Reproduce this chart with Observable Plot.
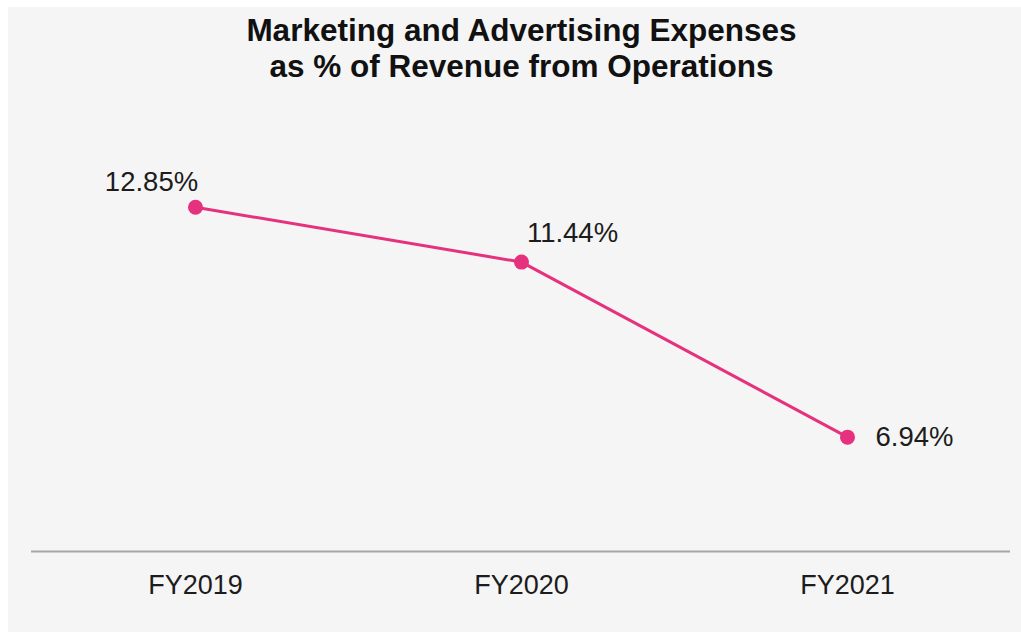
<!DOCTYPE html>
<html>
<head>
<meta charset="utf-8">
<script src="https://cdn.jsdelivr.net/npm/d3@7"></script>
<script src="https://cdn.jsdelivr.net/npm/@observablehq/plot@0.6"></script>
<style>
  html, body { margin: 0; padding: 0; background: #ffffff; }
  body { width: 1021px; height: 632px; overflow: hidden; position: relative;
         font-family: "Liberation Sans", Arial, sans-serif; }
  #panel { position: absolute; left: 8px; top: 7px; width: 1013px; height: 625px; background: #f5f5f5; }
  #title { box-sizing: border-box; width: 1013px; height: 93px; padding-top: 5px; padding-left: 14px;
           text-align: center; font-weight: bold; font-size: 31.5px; line-height: 36px; color: #111; }
  #chart svg { display: block; }
</style>
</head>
<body>
<div id="panel">
  <div id="title">Marketing and Advertising Expenses<br>as % of Revenue from Operations</div>
  <div id="chart"></div>
</div>
<script>
const years = ["FY2019", "FY2020", "FY2021"];
const values = [12.85, 11.44, 6.94];
const valueLabels = ["12.85%", "11.44%", "6.94%"];

const data = years.map((y, i) => ({year: y, value: values[i], label: valueLabels[i]}));
const pink = "#e6327e";
const textColor = "#1c1c1c";

const plot = Plot.plot({
  width: 1013,
  height: 532,
  marginLeft: 23,
  marginRight: 11,
  marginTop: 62,
  marginBottom: 81,
  style: {background: "transparent", fontFamily: "'Liberation Sans', Arial, sans-serif", color: textColor},
  x: {type: "point", domain: years, padding: 0.5, label: null},
  y: {domain: [4, 14], axis: null},
  marks: [
    Plot.ruleY([4], {stroke: "#a6a6a6", strokeWidth: 2}),
    Plot.axisX({tickSize: 0, tickPadding: 23, fontSize: 27, fill: textColor, label: null}),
    Plot.line(data, {x: "year", y: "value", stroke: pink, strokeWidth: 3}),
    Plot.dot(data, {x: "year", y: "value", r: 7.5, fill: pink, stroke: "none"}),
    Plot.text(data.filter((d, i) => i === 0), {x: "year", y: "value", text: "label", dx: -44, dy: -25, fontSize: 27.5, fill: textColor, textAnchor: "middle"}),
    Plot.text(data.filter((d, i) => i === 1), {x: "year", y: "value", text: "label", dx: 51, dy: -29, fontSize: 27.5, fill: textColor, textAnchor: "middle"}),
    Plot.text(data.filter((d, i) => i === 2), {x: "year", y: "value", text: "label", dx: 28, dy: 0, fontSize: 27.5, fill: textColor, textAnchor: "start"})
  ]
});
document.getElementById("chart").appendChild(plot);
</script>
</body>
</html>
